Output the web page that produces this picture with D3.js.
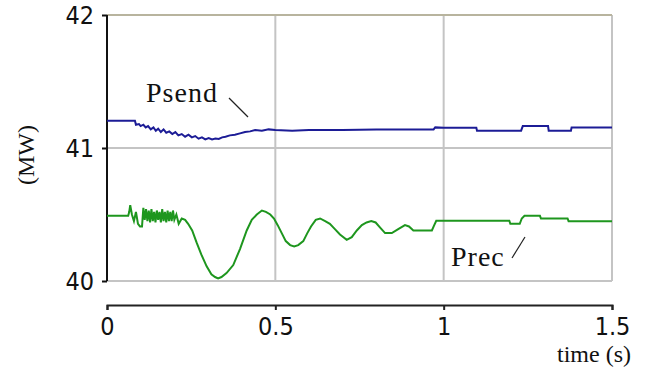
<!DOCTYPE html>
<html>
<head>
<meta charset="utf-8">
<script src="https://cdn.jsdelivr.net/npm/d3@7"></script>
<style>
  body { margin: 0; background: #fff; }
  svg { display: block; }
  .tick text { font-family: "Liberation Sans Narrow", "DejaVu Sans Condensed", sans-serif; font-size: 25px; fill: #111; }
  .lbl { font-family: "Liberation Serif", serif; fill: #111; }
</style>
</head>
<body>
<svg id="chart" width="646" height="371"></svg>
<script>
// Psend (sending end power), MW
const psendT = [0, 0.083, 0.086, 0.095, 0.1, 0.108, 0.115, 0.122, 0.13, 0.138, 0.145, 0.152, 0.16, 0.168, 0.176,
  0.185, 0.194, 0.203, 0.212, 0.222, 0.232, 0.242, 0.252, 0.262, 0.272, 0.282, 0.292, 0.302, 0.312, 0.322,
  0.332, 0.342, 0.352, 0.365, 0.38, 0.395, 0.41, 0.425, 0.44, 0.46, 0.48, 0.5, 0.55, 0.6, 0.7, 0.8, 0.9,
  0.97, 0.975, 1.0, 1.097, 1.099, 1.23, 1.235, 1.31, 1.312, 1.378, 1.38, 1.5];
const psendV = [41.205, 41.205, 41.175, 41.18, 41.165, 41.175, 41.155, 41.165, 41.14, 41.155, 41.13, 41.145, 41.12, 41.14, 41.115,
  41.125, 41.105, 41.12, 41.095, 41.105, 41.085, 41.1, 41.08, 41.09, 41.07, 41.08, 41.065, 41.075, 41.065, 41.072,
  41.068, 41.08, 41.085, 41.095, 41.1, 41.11, 41.12, 41.125, 41.135, 41.13, 41.14, 41.135, 41.13, 41.135, 41.135, 41.14, 41.14,
  41.14, 41.155, 41.153, 41.153, 41.13, 41.13, 41.165, 41.165, 41.13, 41.13, 41.155, 41.155];

// Prec (receiving end power), MW
const precT = [0, 0.063, 0.066, 0.069, 0.074, 0.08, 0.086, 0.092, 0.098, 0.104, 0.108, 0.112, 0.116, 0.12, 0.124,
  0.128, 0.132, 0.136, 0.14, 0.144, 0.148, 0.152, 0.156, 0.16, 0.164, 0.168, 0.172, 0.176, 0.18, 0.184,
  0.188, 0.192, 0.196, 0.2, 0.206, 0.213, 0.222, 0.232, 0.241, 0.253, 0.266, 0.28, 0.296, 0.31, 0.321, 0.33,
  0.34, 0.355, 0.375, 0.395, 0.415, 0.43, 0.445, 0.46, 0.472, 0.485, 0.496, 0.507, 0.519, 0.531, 0.544, 0.556,
  0.568, 0.583, 0.595, 0.606, 0.62, 0.633, 0.648, 0.662, 0.677, 0.692, 0.712, 0.727, 0.742, 0.757, 0.771, 0.785,
  0.798, 0.812, 0.826, 0.846, 0.865, 0.885, 0.897, 0.91, 0.935, 0.965, 0.972, 0.978, 1.0, 1.195, 1.198, 1.226,
  1.232, 1.24, 1.286, 1.289, 1.368, 1.371, 1.5];
const precV = [40.49, 40.49, 40.52, 40.57, 40.5, 40.45, 40.52, 40.43, 40.41, 40.41, 40.55, 40.46, 40.54, 40.45, 40.53,
  40.44, 40.54, 40.45, 40.52, 40.44, 40.53, 40.46, 40.52, 40.44, 40.54, 40.45, 40.52, 40.44, 40.53, 40.45,
  40.52, 40.45, 40.53, 40.46, 40.5, 40.43, 40.47, 40.46, 40.43, 40.38, 40.29, 40.2, 40.11, 40.05, 40.03, 40.02,
  40.03, 40.06, 40.12, 40.24, 40.38, 40.46, 40.5, 40.53, 40.52, 40.5, 40.47, 40.42, 40.36, 40.3, 40.27, 40.26,
  40.27, 40.3, 40.36, 40.41, 40.46, 40.47, 40.45, 40.43, 40.39, 40.35, 40.31, 40.33, 40.38, 40.42, 40.44, 40.45,
  40.44, 40.4, 40.36, 40.36, 40.39, 40.42, 40.41, 40.38, 40.38, 40.38, 40.42, 40.453, 40.453, 40.453, 40.43, 40.43,
  40.47, 40.49, 40.49, 40.47, 40.47, 40.45, 40.45];

const xTicks = [0, 0.5, 1, 1.5];
const yTicks = [40, 41, 42];

const svg = d3.select("#chart");
const plotLeft = 107, plotRight = 612, plotTop = 15, plotBottom = 281, xAxisY = 305;

const x = d3.scaleLinear().domain([0, 1.5]).range([plotLeft, plotRight]);
const y = d3.scaleLinear().domain([40, 42]).range([plotBottom, plotTop]);

// grid
svg.append("g").selectAll("line")
  .data(xTicks.slice(1))
  .enter().append("line")
  .attr("x1", d => x(d)).attr("x2", d => x(d))
  .attr("y1", plotTop).attr("y2", plotBottom)
  .attr("stroke", "#c4c4c4").attr("stroke-width", 2);

svg.append("g").selectAll("line")
  .data(yTicks)
  .enter().append("line")
  .attr("x1", plotLeft).attr("x2", x(1.5))
  .attr("y1", d => y(d)).attr("y2", d => y(d))
  .attr("stroke", d => d === 42 ? "#b8b49e" : "#c4c4c4")
  .attr("stroke-width", 2);

// y axis
const yAxis = d3.axisLeft(y).tickValues(yTicks).tickSize(5).tickPadding(8).tickFormat(d3.format("d"));
const gy = svg.append("g").attr("transform", "translate(" + plotLeft + ",0)").call(yAxis);
gy.selectAll("path, line").attr("stroke", "#111").attr("stroke-width", 2);
gy.select(".domain").remove();
gy.append("line").attr("x1", 0).attr("x2", 0).attr("y1", plotTop).attr("y2", plotBottom)
  .attr("stroke", "#111").attr("stroke-width", 2);

// x axis (offset below plot)
const xAxis = d3.axisBottom(x).tickValues(xTicks).tickSize(5).tickPadding(7).tickFormat(d => d);
const gx = svg.append("g").attr("transform", "translate(0," + xAxisY + ")").call(xAxis);
gx.selectAll("path, line").attr("stroke", "#222").attr("stroke-width", 2);

// series
const line = d3.line().x(d => x(d[0])).y(d => y(d[1]));

svg.append("path")
  .datum(psendT.map((t, i) => [t, psendV[i]]))
  .attr("d", line)
  .attr("fill", "none")
  .attr("stroke", "#1c1c96")
  .attr("stroke-width", 2);

svg.append("path")
  .datum(precT.map((t, i) => [t, precV[i]]))
  .attr("d", line)
  .attr("fill", "none")
  .attr("stroke", "#1e961e")
  .attr("stroke-width", 2);

// labels
svg.append("text").attr("class", "lbl")
  .attr("x", 146).attr("y", 102)
  .style("font-size", "28px").style("letter-spacing", "1px")
  .text("Psend");
svg.append("line").attr("x1", 229).attr("y1", 98).attr("x2", 248).attr("y2", 117)
  .attr("stroke", "#222").attr("stroke-width", 1.2);

svg.append("text").attr("class", "lbl")
  .attr("x", 451).attr("y", 266)
  .style("font-size", "28px").style("letter-spacing", "1px")
  .text("Prec");
svg.append("line").attr("x1", 512).attr("y1", 258).attr("x2", 525).attr("y2", 237)
  .attr("stroke", "#222").attr("stroke-width", 1.2);

svg.append("text").attr("class", "lbl")
  .attr("transform", "translate(34,155) rotate(-90)")
  .attr("text-anchor", "middle")
  .style("font-size", "24px")
  .text("(MW)");

svg.append("text").attr("class", "lbl")
  .attr("x", 631).attr("y", 362)
  .attr("text-anchor", "end")
  .style("font-size", "24px")
  .text("time (s)");
</script>
</body>
</html>
